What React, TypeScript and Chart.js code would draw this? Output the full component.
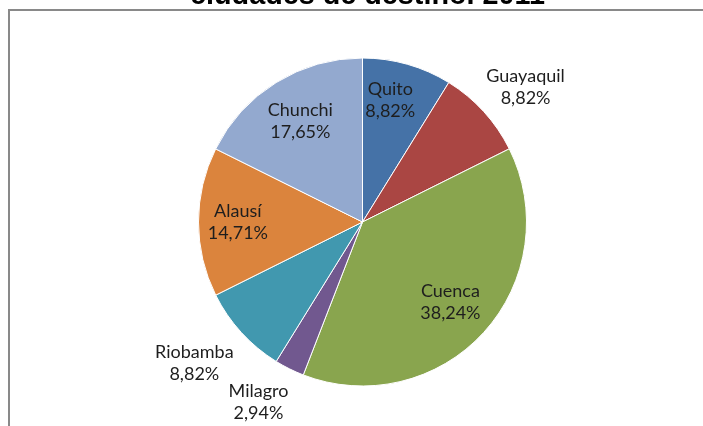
import React, { useEffect, useRef } from "react";
import { Chart, registerables } from "chart.js";

Chart.register(...registerables);

const categories = ["Quito", "Guayaquil", "Cuenca", "Milagro", "Riobamba", "Alausí", "Chunchi"];
const values = [8.82, 8.82, 38.24, 2.94, 8.82, 14.71, 17.65];
const valueLabels = ["8,82%", "8,82%", "38,24%", "2,94%", "8,82%", "14,71%", "17,65%"];
const colors = ["#4572A7", "#AA4643", "#89A54E", "#71588F", "#4198AF", "#DB843D", "#93A9CF"];
const labelRadius = [0.76, 1.29, 0.725, 1.27, 1.34, 0.76, 0.72];
const labelAngleNudge = [-3, 2.8, 0, 3.5, 2.3, 0, 0];
const titleLastLine = "ciudades de destino. 2011";

const framePlugin = {
  id: "frame",
  beforeDraw(chart: any) {
    const ctx = chart.ctx;
    ctx.save();
    ctx.fillStyle = "#ffffff";
    ctx.fillRect(0, 0, chart.width, chart.height);
    ctx.strokeStyle = "#898989";
    ctx.lineWidth = 2;
    ctx.beginPath();
    ctx.moveTo(9, chart.height + 5);
    ctx.lineTo(9, 10);
    ctx.lineTo(chart.width + 5, 10);
    ctx.stroke();
    ctx.fillStyle = "#000000";
    ctx.font = "bold 28px 'Liberation Sans', Arial, sans-serif";
    const w = ctx.measureText(titleLastLine).width;
    const size = (28 * 355) / w;
    ctx.font = `bold ${size}px 'Liberation Sans', Arial, sans-serif`;
    ctx.textAlign = "center";
    ctx.textBaseline = "alphabetic";
    ctx.fillText(titleLastLine, 367.5, 4);
    ctx.restore();
  },
};

const labelPlugin = {
  id: "sliceLabels",
  afterDatasetsDraw(chart: any) {
    const ctx = chart.ctx;
    const meta = chart.getDatasetMeta(0);
    ctx.save();
    ctx.fillStyle = "#1e1e1e";
    ctx.font = "18px Lato, 'Open Sans', sans-serif";
    ctx.textAlign = "center";
    ctx.textBaseline = "middle";
    meta.data.forEach((arc: any, i: number) => {
      const p = arc.getProps(["x", "y", "startAngle", "endAngle", "outerRadius"], true);
      const mid = (p.startAngle + p.endAngle) / 2 + (labelAngleNudge[i] * Math.PI) / 180;
      const r = p.outerRadius * labelRadius[i];
      const cx = p.x + Math.cos(mid) * r;
      const cy = p.y + Math.sin(mid) * r;
      ctx.fillText(categories[i], cx, cy - 11);
      ctx.fillText(valueLabels[i], cx, cy + 11);
    });
    ctx.restore();
  },
};

export default function App() {
  const ref = useRef<HTMLCanvasElement | null>(null);
  useEffect(() => {
    if (!ref.current) return;
    const chart = new Chart(ref.current, {
      type: "pie",
      data: {
        labels: categories,
        datasets: [
          {
            data: values,
            backgroundColor: colors,
            borderColor: "#ffffff",
            borderWidth: 1,
          },
        ],
      },
      options: {
        animation: false,
        responsive: false,
        events: [],
        layout: { padding: { left: 198, right: 176, top: 57, bottom: 39 } },
        plugins: {
          legend: { display: false },
          title: { display: false },
          tooltip: { enabled: false },
        },
      },
      plugins: [framePlugin, labelPlugin],
    });
    return () => chart.destroy();
  }, []);
  return (
    <div style={{ position: "fixed", left: 0, top: 0, width: 703, height: 426, background: "#fff" }}>
      <canvas ref={ref} width={703} height={426} style={{ display: "block" }} />
    </div>
  );
}
